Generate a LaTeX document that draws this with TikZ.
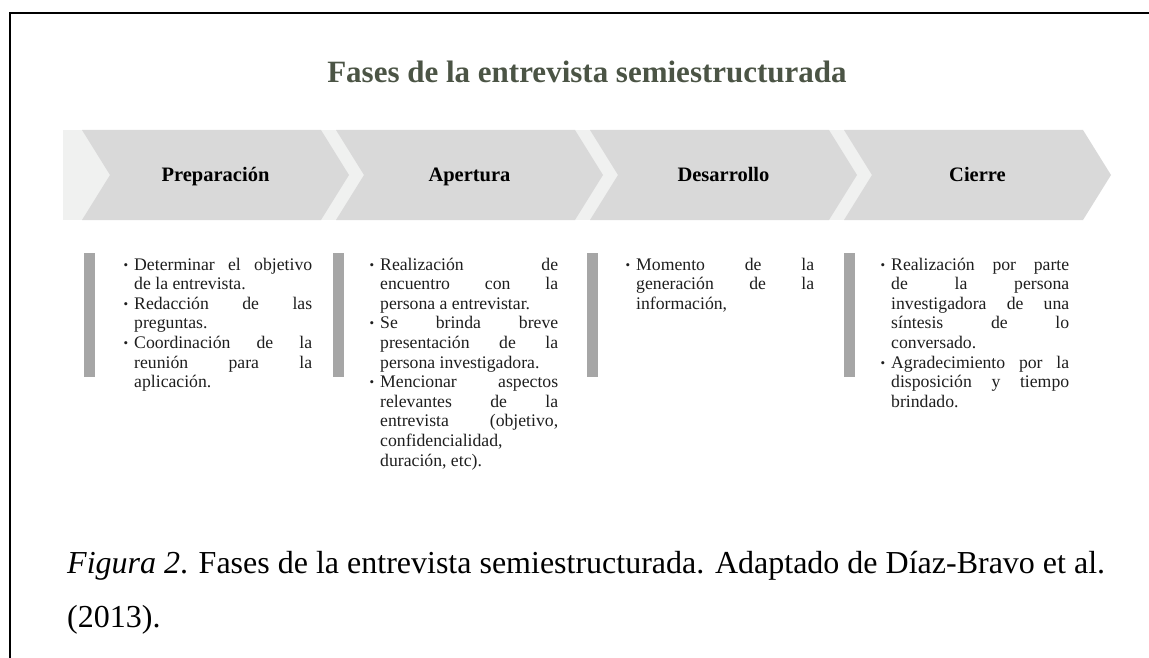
\documentclass[tikz,border=0pt]{standalone}
\usepackage{fontspec}
\setmainfont{Liberation Serif}
\definecolor{bandc}{HTML}{F0F1F0}
\definecolor{chevc}{HTML}{D9D9D9}
\definecolor{barc}{HTML}{A6A6A6}
\definecolor{titlec}{HTML}{4B5445}
\definecolor{bodyc}{HTML}{1E1E1E}
\newlength{\colw}\setlength{\colw}{178pt}
\newcommand{\jl}[1]{\hbox to \colw{#1}}
\newcommand{\el}[1]{\hbox to \colw{#1\hfil}}
\newcommand{\bu}{\llap{\raisebox{1pt}{\fontsize{13}{13}\selectfont •}\kern6pt}}
\newcommand{\colbox}[1]{\vtop{\hsize=\colw\fontsize{17.7}{19.6}\selectfont\baselineskip=19.6pt\lineskiplimit=-100pt\parindent=0pt #1}}
\tikzset{
  chevbox/.style={fill=chevc},
  barbox/.style={fill=barc},
  phase/.style={anchor=base, inner sep=0pt, font=\fontsize{20.5}{20.5}\selectfont\bfseries},
  coltext/.style={anchor=base west, inner sep=0pt, text=bodyc},
  captext/.style={anchor=base west, inner sep=0pt, font=\fontsize{32}{32}\selectfont}
}
\begin{document}
\begin{tikzpicture}[x=1pt,y=-1pt]
\useasboundingbox (0,0) rectangle (1149,658);
% frame
\draw[line width=2.3pt] (1150,13) -- (10,13) -- (10,659);
% title
\node[anchor=base, inner sep=0pt, text=titlec, font=\fontsize{31}{31}\selectfont\bfseries] (title) at (587,83) {Fases de la entrevista semiestructurada};
% band
\fill[bandc] (63,130) rectangle (1083,220);
% chevrons
\foreach \L/\lab/\nm in {82/Preparación/p1, 336/Apertura/p2, 590/Desarrollo/p3, 844/Cierre/p4}{
  \fill[chevbox] (\L,130) -- (\L+239,130) -- (\L+267,175) -- (\L+239,220) -- (\L,220) -- (\L+28,175) -- cycle;
  \node[phase] (\nm) at (\L+133.5,182) {\lab};
}
% bars
\foreach \L in {84,333,587,844}{
  \fill[barbox] (\L,253) rectangle (\L+11,377);
}
% columns
\node[coltext] (c1) at (134,270) {\colbox{%
\jl{\bu Determinar\hfill el\hfill objetivo}
\el{de la entrevista.}
\jl{\bu Redacción\hfill de\hfill las}
\el{preguntas.}
\jl{\bu Coordinación\hfill de\hfill la}
\jl{reunión\hfill para\hfill la}
\el{aplicación.}}};
\node[coltext] (c2) at (380,270) {\colbox{%
\jl{\bu Realización\hfill de}
\jl{encuentro\hfill con\hfill la}
\el{persona a entrevistar.}
\jl{\bu Se\hfill brinda\hfill breve}
\jl{presentación\hfill de\hfill la}
\el{persona investigadora.}
\jl{\bu Mencionar\hfill aspectos}
\jl{relevantes\hfill de\hfill la}
\jl{entrevista\hfill (objetivo,}
\el{confidencialidad,}
\el{duración, etc).}}};
\node[coltext] (c3) at (636,270) {\colbox{%
\jl{\bu Momento\hfill de\hfill la}
\jl{generación\hfill de\hfill la}
\el{información,}}};
\node[coltext] (c4) at (891,270) {\colbox{%
\jl{\bu Realización\hfill por\hfill parte}
\jl{de\hfill la\hfill persona}
\jl{investigadora\hfill de\hfill una}
\jl{síntesis\hfill de\hfill lo}
\el{conversado.}
\jl{\bu Agradecimiento\hfill por\hfill la}
\jl{disposición\hfill y\hfill tiempo}
\el{brindado.}}};
% caption
\node[captext] (cap1) at (67,573) {\textit{Figura 2}. Fases de la entrevista semiestructurada. Adaptado de Díaz-Bravo et al.};
\node[captext] (cap2) at (67,627) {(2013).};
\end{tikzpicture}
\end{document}
